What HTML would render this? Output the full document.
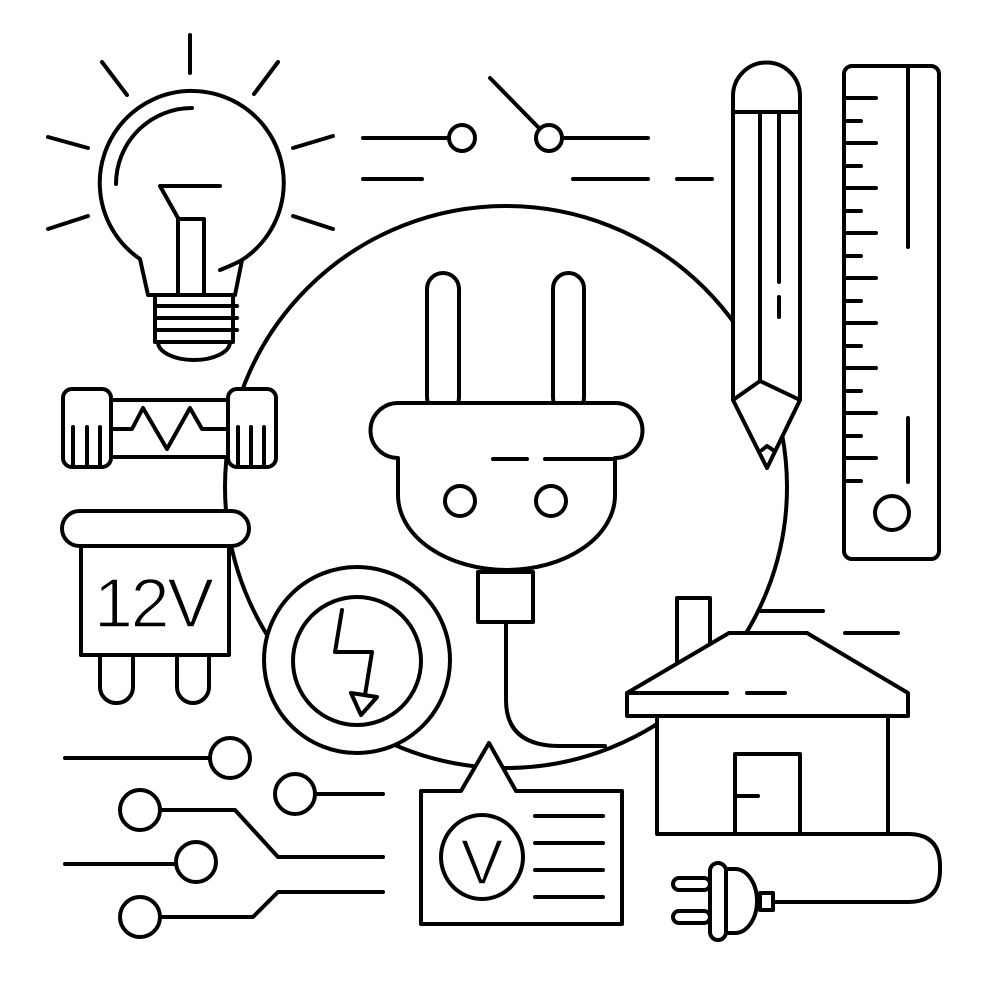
<!DOCTYPE html>
<html><head><meta charset="utf-8"><style>html,body{margin:0;padding:0;background:#fff}svg{display:block}</style></head>
<body>
<svg width="1000" height="1000" viewBox="0 0 1000 1000" xmlns="http://www.w3.org/2000/svg" fill="none" stroke="#000" stroke-width="4" stroke-linecap="round" stroke-linejoin="round">
<circle cx="506" cy="487" r="281"/>

<line x1="190" y1="35" x2="190" y2="73"/>
<line x1="102" y1="62" x2="127" y2="95"/>
<line x1="278" y1="62" x2="254" y2="94"/>
<line x1="48" y1="137" x2="88" y2="148"/>
<line x1="333" y1="136" x2="293" y2="148"/>
<line x1="48" y1="229" x2="88" y2="216"/>
<line x1="293" y1="216" x2="333" y2="229"/>
<path d="M140,259 A92,92 0 1 1 242,260 L235,295 L148,295 Z" fill="#fff"/>
<path d="M220,270 Q235,264 242,260" />
<path d="M192,108 A76,76 0 0 0 116,184"/>
<path d="M220,186 L160,186 L178,218 L178,295 M178,219 L204,219 L204,295"/>
<rect x="155" y="295" width="78" height="47" fill="#fff"/>
<line x1="155" y1="306" x2="237" y2="306"/><line x1="155" y1="318" x2="237" y2="318"/><line x1="155" y1="330" x2="237" y2="330"/>
<path d="M158,342 A36,18 0 0 0 230,342"/>

<rect x="111" y="400" width="117" height="57" fill="#fff"/>
<path d="M111,429 L132,429 L143,408 L167,449 L190,408 L202,429 L228,429"/>
<rect x="63" y="389" width="48" height="78" rx="9" fill="#fff"/>
<rect x="228" y="389" width="48" height="78" rx="9" fill="#fff"/>
<path d="M73,427V465M87,427V465M100,427V465M238,427V465M251,427V465M264,427V465"/>

<rect x="100" y="630" width="33" height="73" rx="16" fill="#fff"/>
<rect x="177" y="630" width="32" height="73" rx="16" fill="#fff"/>
<rect x="81" y="546" width="148" height="109" fill="#fff"/>
<rect x="62" y="511" width="187" height="35" rx="17.5" fill="#fff"/>
<text x="154" y="627" text-anchor="middle" font-family="Liberation Sans, sans-serif" font-size="70" fill="#000" stroke="#fff" stroke-width="1.6" textLength="120">12V</text>

<circle cx="357" cy="660" r="93" fill="#fff"/>
<circle cx="357" cy="661" r="64"/>
<path d="M342,610 L335,652 L372,652 L365,695"/>
<path d="M351,693 L377,697 L361,715 Z"/>

<line x1="363" y1="138" x2="448" y2="138"/>
<circle cx="462" cy="138" r="13"/>
<circle cx="549" cy="138" r="13"/>
<line x1="563" y1="138" x2="648" y2="138"/>
<line x1="490" y1="78" x2="538" y2="127"/>
<line x1="363" y1="179" x2="422" y2="179"/>
<line x1="573" y1="179" x2="648" y2="179"/>
<line x1="677" y1="179" x2="712" y2="179"/>

<path d="M733,400 L733,96 A33.5,33.5 0 0 1 800,96 L800,400 L767,468 Z" fill="#fff"/>
<line x1="733" y1="112" x2="800" y2="112"/>
<path d="M760,112 L760,381 M779,112 L779,282 M779,297 L779,317"/>
<path d="M733,400 L760,381 L800,400"/>
<path d="M762,450 L767,446 L773,450"/>

<rect x="844" y="66" width="95" height="493" rx="8" fill="#fff"/>
<path d="M844,98H876M844,121H861M844,143H876M844,166H861M844,188H876M844,211H861M844,233H876M844,256H861M844,278H876M844,301H861M844,323H876M844,346H861M844,368H876M844,391H861M844,413H876M844,436H861M844,458H876M844,481H861"/>
<path d="M908,67V247M908,418V482"/>
<circle cx="892" cy="513" r="17"/>

<rect x="427" y="273" width="32" height="140" rx="16" fill="#fff"/>
<rect x="553" y="273" width="31" height="140" rx="15.5" fill="#fff"/>
<path d="M398,403 L615,403 A27.5,27.5 0 0 1 615,458 L615,495 A108.5,75 0 0 1 398,495 L398,458 A27.5,27.5 0 0 1 398,403 Z" fill="#fff"/>
<path d="M493,459H527M545,459H613"/>
<circle cx="460" cy="501" r="15"/>
<circle cx="551" cy="501" r="15"/>
<rect x="478" y="572" width="55" height="50" fill="#fff"/>
<path d="M506,622 L506,700 Q506,746 560,746 L605,746"/>

<rect x="677" y="598" width="33" height="70" fill="#fff"/>
<path d="M729,633 L807,633 L908,693 L908,716 L627,716 L627,693 Z" fill="#fff"/>
<path d="M627,693H727M747,693H785"/>
<rect x="657" y="716" width="231" height="118" fill="#fff"/>
<rect x="735" y="754" width="65" height="80"/>
<line x1="737" y1="796" x2="758" y2="796"/>
<path d="M760,611H823M845,633H898"/>
<path d="M888,834 L908,834 Q940,834 940,866 L940,870 Q940,902 908,902 L773,902"/>
<rect x="760" y="893" width="13" height="17" fill="#fff"/>
<path d="M726,869 L735,869 A22,32 0 0 1 735,933 L726,933 Z" fill="#fff"/>
<rect x="710" y="863" width="16" height="77" rx="8" fill="#fff"/>
<rect x="673" y="878" width="37" height="12" rx="6" fill="#fff"/>
<rect x="673" y="911" width="37" height="12" rx="6" fill="#fff"/>
<line x1="726" y1="913" x2="726" y2="933"/>

<line x1="65" y1="758" x2="210" y2="758"/>
<circle cx="230" cy="758" r="20"/>
<circle cx="295" cy="794" r="20"/>
<line x1="315" y1="794" x2="383" y2="794"/>
<circle cx="140" cy="810" r="20"/>
<path d="M160,810 L235,810 L278,857 L383,857"/>
<line x1="65" y1="864" x2="175" y2="864"/>
<circle cx="196" cy="862" r="20"/>
<circle cx="140" cy="917" r="20"/>
<path d="M160,917 L253,917 L278,892 L383,892"/>

<path d="M421,791 L461,791 L489,743 L516,791 L622,791 L622,924 L421,924 Z" fill="#fff"/>
<ellipse cx="482" cy="857" rx="41" ry="42"/>
<text x="482" y="884" text-anchor="middle" font-family="Liberation Sans, sans-serif" font-size="64" fill="#000" stroke="#fff" stroke-width="1.6">V</text>
<path d="M535,816H603M535,843H603M535,870H603M535,897H603"/>
</svg>
</body></html>
